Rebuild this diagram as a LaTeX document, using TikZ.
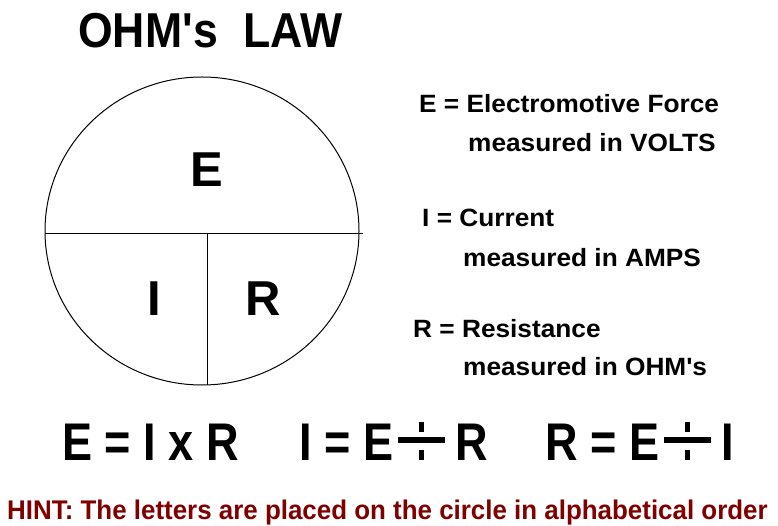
\documentclass[tikz,border=0pt]{standalone}
\usepackage{fontspec}
\setmainfont{Liberation Sans}
\newfontfamily\titlefont[FakeStretch=0.91]{Liberation Sans}
\newfontfamily\notefont[FakeStretch=1.05]{Liberation Sans}
\newfontfamily\formulafont[FakeStretch=0.85]{Liberation Sans}
\newfontfamily\hintfont[FakeStretch=0.96]{Liberation Sans}
\usetikzlibrary{positioning}
\definecolor{HintRed}{HTML}{800000}
% wide division sign of the formulas
\newcommand{\bigdiv}{\kern5pt\rlap{\rule[17pt]{47pt}{6pt}}\kern21pt\rlap{\rule{5pt}{10pt}}\rlap{\rule[28pt]{5pt}{10pt}}\kern26pt\kern10pt}
\tikzset{
  headline/.style={font=\titlefont\bfseries\fontsize{49}{49}\selectfont,inner sep=0pt,anchor=base west},
  letter/.style={font=\bfseries\fontsize{49}{49}\selectfont,inner sep=0pt,anchor=base},
  note/.style={font=\notefont\bfseries\fontsize{25}{25}\selectfont,inner sep=0pt,anchor=base west},
  formula/.style={font=\formulafont\bfseries\fontsize{53}{53}\selectfont,inner sep=0pt,anchor=base west},
  hint/.style={font=\hintfont\bfseries\fontsize{27}{27}\selectfont,text=HintRed,inner sep=0pt,anchor=base west},
  wheel/.style={draw=black,line width=1pt}
}

\begin{document}
\begin{tikzpicture}[x=1pt,y=-1pt]
  \useasboundingbox[fill=white] (0,0) rectangle (778,526);

  % the circle and its three parts
  \coordinate (centre) at (202,231);
  \coordinate (west) at (45,234);
  \coordinate (east) at (363,234);
  \coordinate (mid) at (207,234);
  \coordinate (south) at (207,385);
  \draw[wheel] (centre) ellipse [x radius=157,y radius=154];
  \draw[wheel] (west) -- (east);
  \draw[wheel] (mid) -- (south);

  \node[headline] (title) at (78,48) {OHM\textquotesingle s\ \ LAW};
  \node[letter] (volt) at (207,187) {E};
  \node[letter] (amp) at (154,315) {I};
  \node[letter] (ohm) at (263,315) {R};

  % meaning of the letters
  \node[note] (edef) at (419,113) {E = Electromotive Force};
  \node[note] (eunit) at (468,152) {measured in VOLTS};
  \node[note] (idef) at (422,227) {I = Current};
  \node[note] (iunit) at (463,267) {measured in AMPS};
  \node[note] (rdef) at (413,337) {R = Resistance};
  \node[note] (runit) at (463,375) {measured in OHM\textquotesingle s};

  % the three forms
  \node[formula] (eform) at (62,460) {E = I x R};
  \node[formula] (iform) at (299,460) {I = E\bigdiv R};
  \node[formula] (rform) at (545,460) {R = E\bigdiv I};

  \node[hint] (hint) at (7,519) {HINT: The letters are placed on the circle in alphabetical order};
\end{tikzpicture}
\end{document}
